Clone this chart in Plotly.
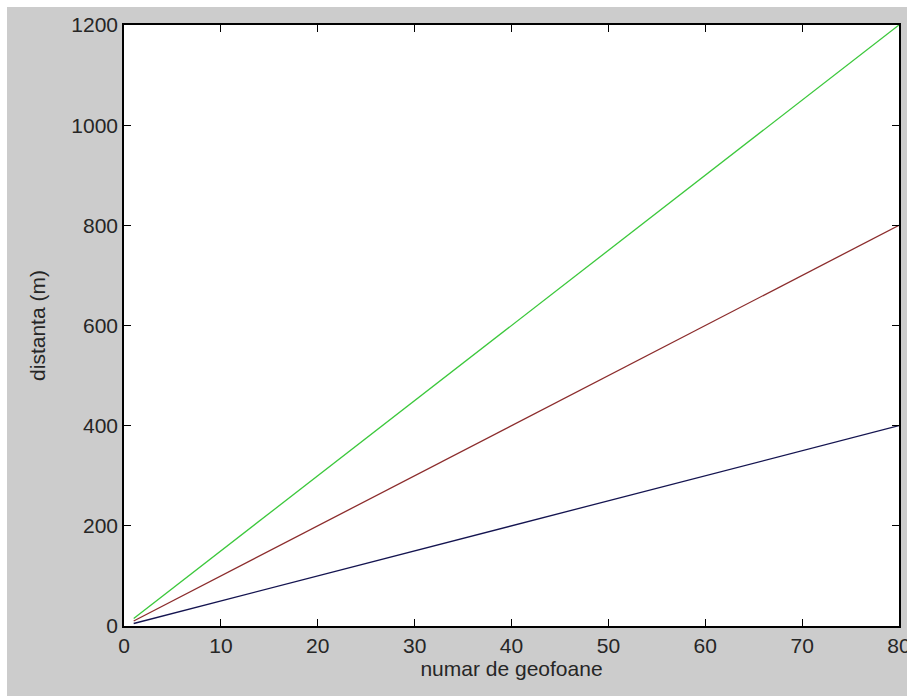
import plotly.graph_objects as go

# Data (straight lines from first to last geophone)
geofoane = [1, 80]
dist_blue = [5, 400]
dist_red = [10, 800]
dist_green = [15, 1200]

x_ticks = [0, 10, 20, 30, 40, 50, 60, 70, 80]
y_ticks = [0, 200, 400, 600, 800, 1000, 1200]

W, H = 907, 696
L, R, T, B = 124, 8, 25, 70
pw, ph = W - L - R, H - T - B

fig = go.Figure()
fig.add_trace(go.Scatter(x=geofoane, y=dist_blue, mode="lines",
                         line=dict(color="#141450", width=1.3), showlegend=False))
fig.add_trace(go.Scatter(x=geofoane, y=dist_red, mode="lines",
                         line=dict(color="#8c2d2d", width=1.3), showlegend=False))
fig.add_trace(go.Scatter(x=geofoane, y=dist_green, mode="lines",
                         line=dict(color="#3cc83c", width=1.3), showlegend=False))

tick_font = dict(family="Liberation Sans, Arial, sans-serif", size=21, color="#262626")
title_font = dict(family="Liberation Sans, Arial, sans-serif", size=21, color="#262626")

fig.update_layout(
    width=W, height=H,
    margin=dict(l=L, r=R, t=T, b=B, pad=0, autoexpand=False),
    paper_bgcolor="#cccccc",
    plot_bgcolor="white",
    font=tick_font,
    xaxis=dict(range=[0, 80], tickvals=x_ticks, ticks="inside", ticklen=7,
               tickcolor="black", showline=True, linecolor="black", linewidth=1.5,
               mirror="ticks", showgrid=False, zeroline=False, automargin=False,
               ticklabeloverflow="allow", tickfont=tick_font,
               title=dict(text="numar de geofoane", standoff=0, font=title_font)),
    yaxis=dict(range=[0, 1200], tickvals=y_ticks, ticks="inside", ticklen=7,
               tickcolor="black", showline=True, linecolor="black", linewidth=1.5,
               mirror="ticks", showgrid=False, zeroline=False, automargin=False,
               ticklabeloverflow="allow", tickfont=tick_font,
               title=dict(text="distanta (m)", standoff=20, font=title_font)),
    shapes=[
        dict(type="rect", xref="paper", yref="paper", layer="above",
             x0=-L / pw, x1=(W - L) / pw, y0=1 + (T - 7) / ph, y1=1 + T / ph,
             fillcolor="white", line=dict(width=0)),
        dict(type="rect", xref="paper", yref="paper", layer="above",
             x0=-L / pw, x1=-(L - 7) / pw, y0=-B / ph, y1=1 + T / ph,
             fillcolor="white", line=dict(width=0)),
    ],
)

fig.write_html("out.html")
